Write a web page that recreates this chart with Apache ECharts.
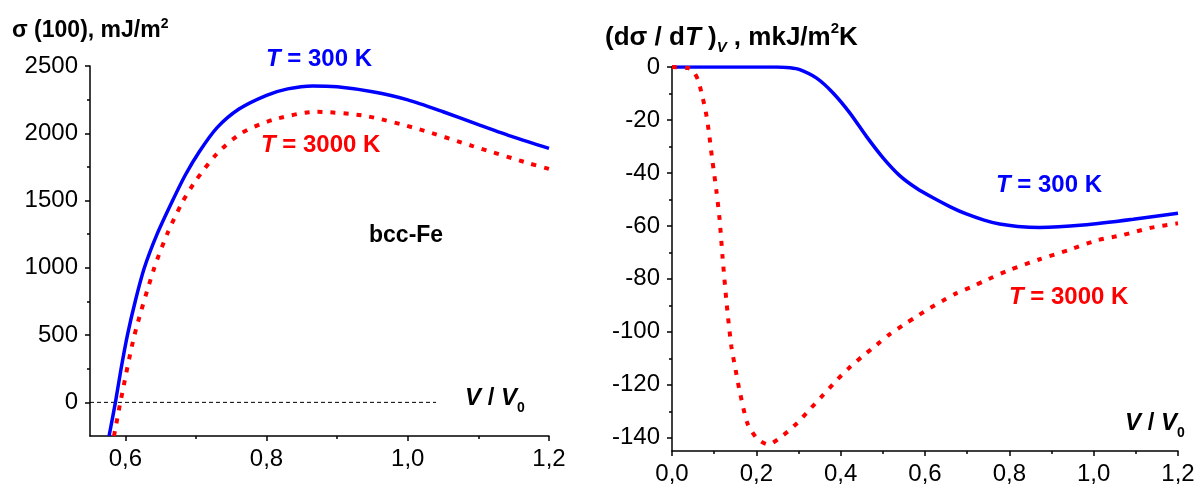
<!DOCTYPE html>
<html>
<head>
<meta charset="utf-8">
<script src="https://cdn.jsdelivr.net/npm/echarts@6/dist/echarts.min.js"></script>
<style>html,body{margin:0;padding:0;background:#fff;}#c{width:1200px;height:492px;}</style>
</head>
<body>
<div id="c"></div>
<script>
// ---- Data ----
// Left panel: surface energy sigma(100), mJ/m^2 vs V/V0
const leftX300 = [0.577, 0.586, 0.594, 0.603, 0.614, 0.627, 0.645, 0.667, 0.685, 0.705, 0.730, 0.761, 0.800, 0.830, 0.865, 0.900, 0.950, 1.000, 1.050, 1.100, 1.150, 1.200];
const leftY300 = [-250, 0, 250, 500, 750, 1000, 1250, 1500, 1690, 1865, 2042, 2180, 2282, 2330, 2352, 2345, 2308, 2248, 2160, 2065, 1972, 1888];
const leftX3000 = [0.584, 0.593, 0.613, 0.641, 0.660, 0.680, 0.700, 0.730, 0.764, 0.809, 0.870, 0.941, 1.016, 1.092, 1.172, 1.200];
const leftY3000 = [-250, 0, 500, 1000, 1260, 1480, 1650, 1850, 2000, 2100, 2160, 2128, 2030, 1905, 1776, 1735];
const zeroLineX = [0.55, 1.04];
const zeroLineY = [0, 0];

// Right panel: (d sigma / dT)_V, mkJ/m^2K vs V/V0
const rightX300 = [0.000, 0.100, 0.200, 0.248, 0.280, 0.303, 0.343, 0.382, 0.422, 0.461, 0.501, 0.540, 0.580, 0.619, 0.660, 0.698, 0.740, 0.777, 0.820, 0.872, 0.975, 1.094, 1.200];
const rightY300 = [0, 0, 0, 0, -0.3, -1.0, -4.2, -9.8, -17.4, -26.2, -34.4, -41.0, -45.8, -49.4, -52.8, -55.5, -57.8, -59.3, -60.2, -60.6, -59.7, -57.5, -55.2];
const rightX3000 = [0.000, 0.038, 0.050, 0.062, 0.072, 0.080, 0.087, 0.095, 0.105, 0.113, 0.120, 0.130, 0.141, 0.151, 0.160, 0.179, 0.202, 0.228, 0.264, 0.296, 0.325, 0.358, 0.391, 0.419, 0.452, 0.485, 0.513, 0.551, 0.579, 0.612, 0.645, 0.675, 0.711, 0.738, 0.801, 0.872, 0.943, 1.007, 1.070, 1.133, 1.200];
const rightY3000 = [0, -0.4, -1.5, -5.0, -11.1, -16.8, -24.0, -34.4, -46.4, -57.7, -72.0, -90.0, -105.7, -114.5, -122.0, -134.6, -140.3, -142.5, -139.0, -134.6, -129.6, -123.9, -118.2, -113.8, -109.2, -105.0, -101.3, -97.2, -94.3, -91.0, -88.0, -85.4, -83.0, -81.0, -76.6, -72.6, -69.0, -65.5, -63.4, -60.8, -59.0];

// Tick values
const leftXTicks = [0.6, 0.8, 1.0, 1.2];
const leftXMinor = [0.7, 0.9, 1.1];
const leftYTicks = [0, 500, 1000, 1500, 2000, 2500];
const leftYMinor = [250, 750, 1250, 1750, 2250];
const rightXTicks = [0.0, 0.2, 0.4, 0.6, 0.8, 1.0, 1.2];
const rightXMinor = [0.1, 0.3, 0.5, 0.7, 0.9, 1.1];
const rightYTicks = [0, -20, -40, -60, -80, -100, -120, -140];
const rightYMinor = [-10, -30, -50, -70, -90, -110, -130];

// ---- Chart ----
const zip = (xs, ys) => xs.map((x, i) => [x, ys[i]]);
const FONT = '"Liberation Sans", Arial, sans-serif';
const BLUE = '#0000ff', RED = '#ff0000';
const fmtX = v => (Math.round(v * 10) / 10).toFixed(1).replace('.', ',');

function mainAxis(grid, min, max, ticks, isX, fmt) {
  return {
    type: 'value', gridIndex: grid, min: min, max: max,
    position: isX ? 'bottom' : 'left',
    axisLine: { show: true, onZero: false, lineStyle: { color: '#000', width: 1.5 } },
    axisTick: { show: true, inside: false, length: 5, customValues: ticks, lineStyle: { color: '#000', width: 1.5 } },
    axisLabel: { show: true, customValues: ticks, margin: isX ? 11 : 12, color: '#000', fontSize: 24, fontFamily: FONT, formatter: fmt },
    splitLine: { show: false }
  };
}
function minorAxis(grid, min, max, ticks, isX) {
  return {
    type: 'value', gridIndex: grid, min: min, max: max,
    position: isX ? 'bottom' : 'left',
    axisLine: { show: false, onZero: false },
    axisTick: { show: true, inside: false, length: 3, customValues: ticks, lineStyle: { color: '#000', width: 1.5 } },
    axisLabel: { show: false },
    splitLine: { show: false }
  };
}

const chart = echarts.init(document.getElementById('c'), null, { renderer: 'canvas' });

function label(x, y, text, rich, base) {
  return {
    type: 'text', x: x, y: y,
    style: Object.assign({ text: text, rich: rich, textAlign: 'left', textVerticalAlign: 'middle' }, base)
  };
}
function tLabel(x, y, num, color) {
  return label(x, y, '{it|T} = ' + num + ' K', {
    it: { fontStyle: 'italic', fontWeight: 'bold', fontSize: 24, fontFamily: FONT, fill: color, color: color }
  }, { fontSize: 24, fontFamily: FONT, fontWeight: 'bold', fill: color });
}
function vLabel(x, y) {
  return label(x, y, '{it|V} / {it|V}{sub|0}', {
    it: { fontStyle: 'italic', fontWeight: 'bold', fontSize: 24, fontFamily: FONT, lineHeight: 34 },
    sub: { fontWeight: 'bold', fontSize: 14, fontFamily: FONT, verticalAlign: 'bottom', lineHeight: 34 }
  }, { fontSize: 24, fontFamily: FONT, fontWeight: 'bold', fill: '#000' });
}

const SMOOTH = 0.25;
chart.setOption({
  animation: false,
  backgroundColor: '#fff',
  grid: [
    { left: 90, right: 651, top: 66, bottom: 56, containLabel: false },
    { left: 672, right: 22, top: 67, bottom: 41, containLabel: false }
  ],
  xAxis: [
    mainAxis(0, 0.55, 1.2, leftXTicks, true, fmtX),
    minorAxis(0, 0.55, 1.2, leftXMinor, true),
    mainAxis(1, 0, 1.2, rightXTicks, true, fmtX),
    minorAxis(1, 0, 1.2, rightXMinor, true)
  ],
  yAxis: [
    mainAxis(0, -250, 2500, leftYTicks, false, v => String(v)),
    minorAxis(0, -250, 2500, leftYMinor, false),
    mainAxis(1, -145, 0, rightYTicks, false, v => String(v)),
    minorAxis(1, -145, 0, rightYMinor, false)
  ],
  series: [
    { type: 'line', xAxisIndex: 0, yAxisIndex: 0, data: zip(zeroLineX, zeroLineY), showSymbol: false, silent: true,
      lineStyle: { color: '#000', width: 1, type: [4, 3] } },
    { type: 'line', xAxisIndex: 0, yAxisIndex: 0, data: zip(leftX300, leftY300), showSymbol: false, smooth: SMOOTH,
      lineStyle: { color: BLUE, width: 3.5 } },
    { type: 'line', xAxisIndex: 0, yAxisIndex: 0, data: zip(leftX3000, leftY3000), showSymbol: false, smooth: SMOOTH,
      lineStyle: { color: RED, width: 4, type: [5, 8], cap: 'butt' } },
    { type: 'line', xAxisIndex: 2, yAxisIndex: 2, data: zip(rightX300, rightY300), showSymbol: false, smooth: SMOOTH,
      lineStyle: { color: BLUE, width: 3.5 } },
    { type: 'line', xAxisIndex: 2, yAxisIndex: 2, data: zip(rightX3000, rightY3000), showSymbol: false, smooth: SMOOTH,
      lineStyle: { color: RED, width: 4, type: [5, 8], cap: 'butt' } }
  ],
  graphic: [
    label(12, 31, 'σ (100), mJ/m{sup|2}', {
      sup: { fontWeight: 'bold', fontSize: 14, fontFamily: FONT, verticalAlign: 'top', lineHeight: 28 }
    }, { fontSize: 23, fontFamily: FONT, fontWeight: 'bold', fill: '#000', lineHeight: 28 }),
    label(605, 38, '(dσ / d{it|T} ){sub|V} , mkJ/m{sup|2}K', {
      it: { fontStyle: 'italic', fontWeight: 'bold', fontSize: 26, fontFamily: FONT, lineHeight: 34 },
      sub: { fontStyle: 'italic', fontWeight: 'bold', fontSize: 15, fontFamily: FONT, verticalAlign: 'bottom', lineHeight: 34 },
      sup: { fontWeight: 'bold', fontSize: 15, fontFamily: FONT, verticalAlign: 'top', lineHeight: 34 }
    }, { fontSize: 26, fontFamily: FONT, fontWeight: 'bold', fill: '#000', lineHeight: 34 }),
    tLabel(266, 59, '300', BLUE),
    tLabel(261, 145, '3000', RED),
    tLabel(996, 185, '300', BLUE),
    tLabel(1009, 297, '3000', RED),
    label(369, 236, 'bcc-Fe', {}, { fontSize: 23, fontFamily: FONT, fontWeight: 'bold', fill: '#000' }),
    vLabel(465, 398),
    vLabel(1125, 423)
  ]
});
</script>
</body>
</html>
